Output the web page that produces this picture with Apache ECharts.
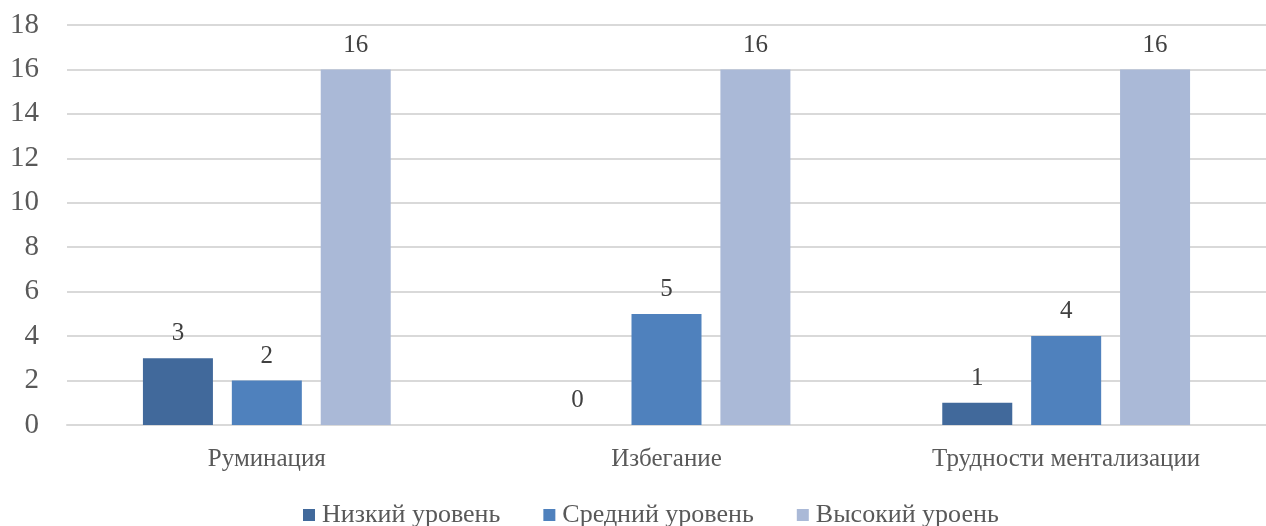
<!DOCTYPE html>
<html><head><meta charset="utf-8">
<script src="https://cdn.jsdelivr.net/npm/echarts@6/dist/echarts.min.js"></script>
<style>html,body{margin:0;padding:0;background:#fff}#c{width:1266px;height:526px}</style>
</head><body><div id="c"></div>
<script>
const categories = ['Руминация', 'Избегание', 'Трудности ментализации'];
const seriesNames = ['Низкий уровень', 'Средний уровень', 'Высокий уроень'];
const lowValues = [3, 0, 1];
const midValues = [2, 5, 4];
const highValues = [16, 16, 16];
const colors = ['#41699b', '#4f81bd', '#aab9d7'];
const font = '"Liberation Serif", "Times New Roman", serif';
const chart = echarts.init(document.getElementById('c'));
const mk = (name, data, color) => ({
  name, type: 'bar', data, barWidth: 70, barGap: '27%',
  itemStyle: { color },
  label: { show: true, position: 'top', distance: 12, color: '#404040', fontFamily: font, fontSize: 25 }
});
chart.setOption({
  animation: false,
  grid: { left: 67, right: 0, top: 25, bottom: 101 },
  legend: {
    bottom: -7, left: 298, itemWidth: 12, itemHeight: 12, itemGap: 43,
    icon: 'rect',
    textStyle: { fontFamily: font, fontSize: 26, color: '#595959', padding: [0, 0, 0, 2] },
    data: seriesNames
  },
  xAxis: {
    type: 'category', data: categories,
    axisLine: { lineStyle: { color: '#d9d9d9', width: 2 } },
    axisTick: { show: false },
    axisLabel: { fontFamily: font, fontSize: 25, color: '#595959', margin: 22 }
  },
  yAxis: {
    type: 'value', min: 0, max: 18, interval: 2,
    axisLine: { show: false }, axisTick: { show: false },
    splitLine: { lineStyle: { color: '#d9d9d9', width: 2 } },
    axisLabel: { fontFamily: font, fontSize: 29, color: '#595959', margin: 28 }
  },
  series: [
    mk(seriesNames[0], lowValues, colors[0]),
    mk(seriesNames[1], midValues, colors[1]),
    mk(seriesNames[2], highValues, colors[2])
  ]
});
</script></body></html>
